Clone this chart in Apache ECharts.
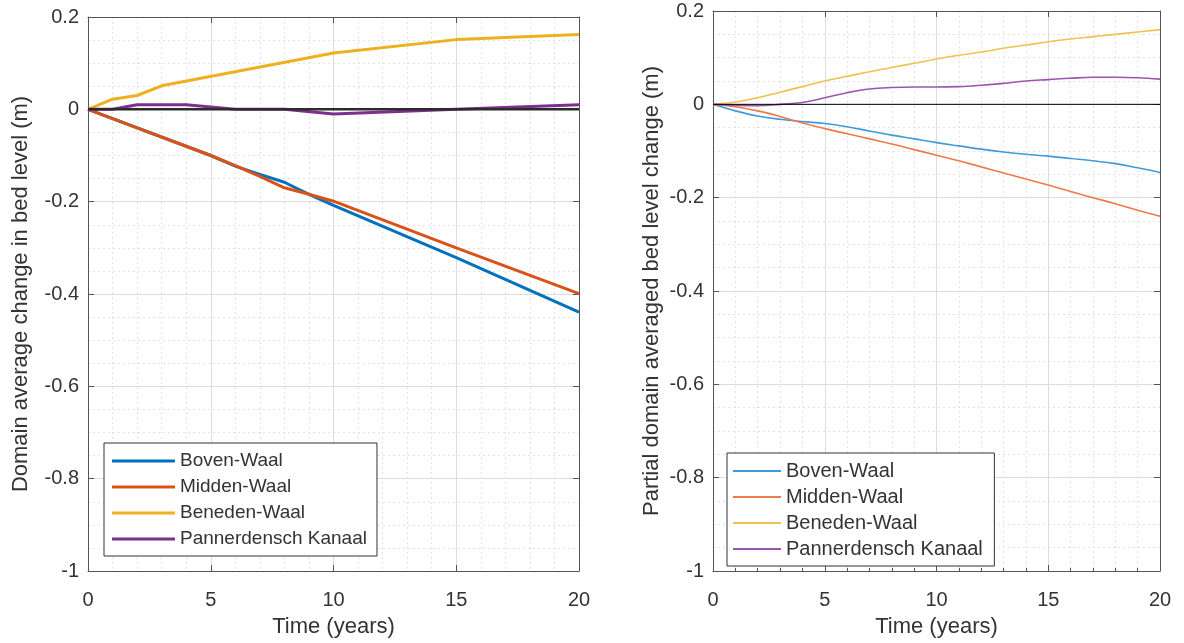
<!DOCTYPE html>
<html>
<head>
<meta charset="utf-8">
<script src="https://cdn.jsdelivr.net/npm/echarts@6/dist/echarts.min.js"></script>
<style>
html,body{margin:0;padding:0;background:#fff;}
#c{width:1184px;height:643px;}
</style>
</head>
<body>
<div id="c"></div>
<script>
// ---------- DATA ----------
const seriesNames = ['Boven-Waal', 'Midden-Waal', 'Beneden-Waal', 'Pannerdensch Kanaal'];
const xTickLabels = ['0', '5', '10', '15', '20'];
const yTickLabels = ['-1', '-0.8', '-0.6', '-0.4', '-0.2', '0', '0.2'];

// Left panel (piecewise linear)
const leftBovenX = [0, 5, 6, 7, 8, 9, 10, 15, 20];
const leftBovenY = [0, -0.1, -0.123, -0.141, -0.158, -0.184, -0.208, -0.321, -0.439];
const leftMiddenX = [0, 5, 6, 7, 8, 9, 10, 15, 20];
const leftMiddenY = [0, -0.1, -0.122, -0.145, -0.17, -0.184, -0.199, -0.30, -0.399];
const leftBenedenX = [0, 1, 2, 3, 10, 15, 20];
const leftBenedenY = [0, 0.022, 0.03, 0.051, 0.122, 0.151, 0.162];
const leftPannX = [0, 1, 2, 4, 6, 8, 10, 15, 20];
const leftPannY = [0, 0, 0.01, 0.01, 0, 0, -0.01, 0, 0.01];

// Right panel (smooth curves, yearly)
const rightYears = [0,1,2,3,4,5,6,7,8,9,10,11,12,13,14,15,16,17,18,19,20];
const rightBoven = [0,-0.014,-0.025,-0.032,-0.037,-0.041,-0.048,-0.057,-0.066,-0.074,-0.082,-0.089,-0.096,-0.102,-0.107,-0.111,-0.116,-0.121,-0.127,-0.136,-0.146];
const rightMidden = [0,-0.005,-0.014,-0.026,-0.04,-0.052,-0.063,-0.074,-0.085,-0.097,-0.109,-0.121,-0.134,-0.147,-0.16,-0.173,-0.187,-0.2,-0.213,-0.227,-0.24];
const rightBeneden = [0,0.005,0.014,0.026,0.038,0.05,0.06,0.07,0.079,0.088,0.097,0.105,0.112,0.12,0.127,0.134,0.14,0.145,0.15,0.155,0.16];
const rightPann = [0,-0.002,-0.003,0,0.004,0.014,0.025,0.033,0.036,0.037,0.037,0.038,0.041,0.045,0.05,0.053,0.056,0.058,0.058,0.057,0.054];

const zeroLineX = [0, 20];
const zeroLineY = [0, 0];

// ---------- STYLE ----------
const FONT = "'Liberation Sans', Arial, Helvetica, sans-serif";
const TXT = '#333333';
const AX = '#555555';
const leftColors = ['#0072BD', '#D95319', '#EDB120', '#7E2F8E'];
const rightColors = ['#3E9BDB', '#EC7A4C', '#F2C04E', '#9B55AF'];

function pairs(xs, ys) { return xs.map((x, i) => [x, ys[i]]); }

function bottomX(gi, bottomMinor) {
  return {
    type: 'value', gridIndex: gi, min: 0, max: 20, interval: 5, position: 'bottom',
    name: 'Time (years)', nameLocation: 'middle', nameGap: 45,
    nameTextStyle: { fontFamily: FONT, fontSize: 22, color: TXT },
    axisLine: { show: true, onZero: false, lineStyle: { color: AX, width: 1 } },
    axisTick: { show: true, inside: true, length: 6, lineStyle: { color: AX } },
    minorTick: { show: bottomMinor, splitNumber: 5, length: 3, lineStyle: { color: AX } },
    axisLabel: { fontFamily: FONT, fontSize: 20, color: TXT, margin: 19,
      formatter: v => xTickLabels[xTickLabels.indexOf(String(v))] },
    splitLine: { show: true, lineStyle: { color: '#dcdcdc', width: 1 } },
    minorSplitLine: { show: true, lineStyle: { color: '#e2e2e2', width: 1, type: [2, 3] } }
  };
}
function topX(gi) {
  return {
    type: 'value', gridIndex: gi, min: 0, max: 20, interval: 5, position: 'top',
    axisLine: { show: true, onZero: false, lineStyle: { color: AX, width: 1 } },
    axisTick: { show: true, inside: true, length: 6, lineStyle: { color: AX } },
    axisLabel: { show: false }, splitLine: { show: false }
  };
}
function leftY(gi, name, gap) {
  return {
    type: 'value', gridIndex: gi, min: -1, max: 0.2, interval: 0.2, position: 'left',
    name: name, nameLocation: 'middle', nameGap: gap,
    nameTextStyle: { fontFamily: FONT, fontSize: 22, color: TXT },
    axisLine: { show: true, onZero: false, lineStyle: { color: AX, width: 1 } },
    axisTick: { show: true, inside: true, length: 6, lineStyle: { color: AX } },
    axisLabel: { fontFamily: FONT, fontSize: 20, color: TXT, margin: 9,
      formatter: v => { const s = String(Math.round(v * 10) / 10); return yTickLabels.includes(s) ? s : s; } },
    splitLine: { show: true, lineStyle: { color: '#dcdcdc', width: 1 } },
    minorTick: { show: false, splitNumber: 4 },
    minorSplitLine: { show: true, lineStyle: { color: '#e2e2e2', width: 1, type: [2, 3] } }
  };
}
function rightY(gi) {
  return {
    type: 'value', gridIndex: gi, min: -1, max: 0.2, interval: 0.2, position: 'right',
    axisLine: { show: true, onZero: false, lineStyle: { color: AX, width: 1 } },
    axisTick: { show: true, inside: true, length: 6, lineStyle: { color: AX } },
    axisLabel: { show: false }, splitLine: { show: false }
  };
}

function lineSeries(name, data, color, width, xi, yi, smooth) {
  return {
    type: 'line', name: name, data: data, xAxisIndex: xi, yAxisIndex: yi,
    showSymbol: false, symbol: 'none', smooth: smooth, animation: false,
    lineStyle: { color: color, width: width }, itemStyle: { color: color }
  };
}

const legendText = (size) => ({ fontFamily: FONT, fontSize: size, color: TXT, lineHeight: 20 });

const option = {
  animation: false,
  backgroundColor: '#ffffff',
  grid: [
    { left: 88, right: 605, top: 17, bottom: 71, containLabel: false },
    { left: 713, right: 24, top: 11, bottom: 68, containLabel: false }
  ],
  xAxis: [bottomX(0, false), bottomX(1, true), topX(0), topX(1)],
  yAxis: [
    leftY(0, 'Domain average change in bed level (m)', 56),
    leftY(1, 'Partial domain averaged bed level change (m)', 50),
    rightY(0), rightY(1)
  ],
  legend: [
    {
      data: seriesNames.map((n, i) => ({ name: n, itemStyle: { color: leftColors[i] } })),
      orient: 'vertical', left: 104, top: 443, itemWidth: 63, itemHeight: 3, itemGap: 6,
      icon: 'rect', padding: [8, 10, 7, 8], backgroundColor: '#fff',
      borderColor: '#333', borderWidth: 1, borderRadius: 0,
      textStyle: legendText(19), selectedMode: false
    },
    {
      data: seriesNames.map((n, i) => ({ name: n + ' ', itemStyle: { color: rightColors[i] } })),
      orient: 'vertical', left: 727, top: 453, itemWidth: 48, itemHeight: 2, itemGap: 6,
      icon: 'rect', padding: [8, 6, 7, 6], backgroundColor: '#fff',
      borderColor: '#333', borderWidth: 1, borderRadius: 0,
      textStyle: legendText(20), selectedMode: false
    }
  ],
  series: [
    lineSeries(seriesNames[0], pairs(leftBovenX, leftBovenY), leftColors[0], 3, 0, 0, false),
    lineSeries(seriesNames[1], pairs(leftMiddenX, leftMiddenY), leftColors[1], 3, 0, 0, false),
    lineSeries(seriesNames[2], pairs(leftBenedenX, leftBenedenY), leftColors[2], 3, 0, 0, false),
    lineSeries(seriesNames[3], pairs(leftPannX, leftPannY), leftColors[3], 3, 0, 0, false),
    lineSeries('zeroL', pairs(zeroLineX, zeroLineY), '#2b2b2b', 2.5, 0, 0, false),
    lineSeries(seriesNames[0] + ' ', pairs(rightYears, rightBoven), rightColors[0], 1.6, 1, 1, 0.4),
    lineSeries(seriesNames[1] + ' ', pairs(rightYears, rightMidden), rightColors[1], 1.6, 1, 1, 0.4),
    lineSeries(seriesNames[2] + ' ', pairs(rightYears, rightBeneden), rightColors[2], 1.6, 1, 1, 0.4),
    lineSeries(seriesNames[3] + ' ', pairs(rightYears, rightPann), rightColors[3], 1.6, 1, 1, 0.4),
    lineSeries('zeroR', pairs(zeroLineX, zeroLineY), '#000000', 1, 1, 1, false)
  ]
};

const chart = echarts.init(document.getElementById('c'), null, { renderer: 'canvas' });
chart.setOption(option);
</script>
</body>
</html>
